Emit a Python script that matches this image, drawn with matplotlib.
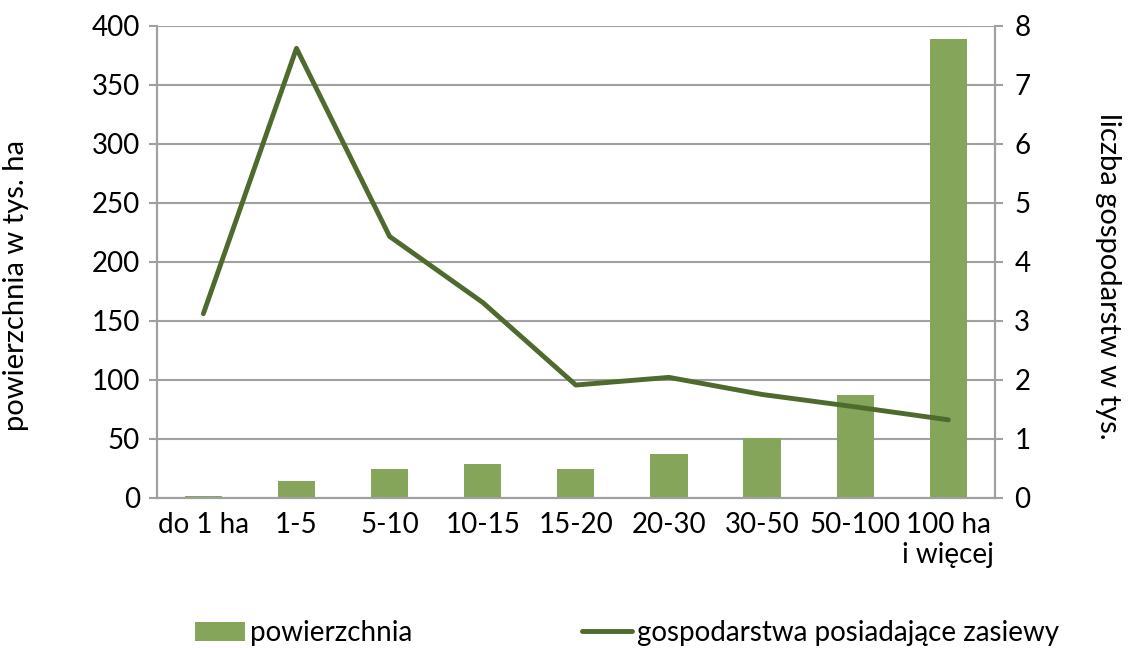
import matplotlib.pyplot as plt
import numpy as np

plt.rcParams['font.family'] = ['Lato', 'DejaVu Sans']

# dane
kategorie = ['do 1 ha', '1-5', '5-10', '10-15', '15-20', '20-30', '30-50', '50-100', '100 ha\ni więcej']
powierzchnia = [1.5, 14, 24, 28.5, 24, 37, 51, 87, 389]
gospodarstwa = [3.12, 7.62, 4.43, 3.31, 1.91, 2.04, 1.75, 1.54, 1.32]

kolor_slupki = '#84A55A'
kolor_linia = '#4F6A2D'
szary = '#A0A0A0'
fs = 20

fig = plt.figure(figsize=(11.28, 6.48), dpi=100)
ax = fig.add_axes([0.139, 0.232, 0.743, 0.728])
ax2 = ax.twinx()

x = np.arange(len(kategorie))
ax.bar(x, powierzchnia, width=0.4, color=kolor_slupki, label='powierzchnia', zorder=3)
ax2.plot(x, gospodarstwa, color=kolor_linia, linewidth=3.5, solid_capstyle='round',
         label='gospodarstwa posiadające zasiewy', zorder=4)

ax.set_xlim(-0.5, len(kategorie) - 0.5)
ax.set_ylim(0, 400)
ax2.set_ylim(0, 8)
ax.set_yticks(range(0, 401, 50))
ax2.set_yticks(range(0, 9))
ax.set_xticks(x)
ax.set_xticklabels(kategorie)

ax.yaxis.grid(True, color=szary, linewidth=1.5, zorder=0)
ax.set_axisbelow(True)
for a in (ax, ax2):
    for s in a.spines.values():
        s.set_color(szary)
        s.set_linewidth(1.5)
    a.spines['top'].set_visible(False)
ax.tick_params(axis='y', length=6, width=1.5, color=szary, labelsize=fs, pad=6)
ax2.tick_params(axis='y', length=6, width=1.5, color=szary, labelsize=fs, pad=8)
ax.tick_params(axis='x', length=0, labelsize=fs, pad=10)

ax.set_ylabel('powierzchnia w tys. ha', fontsize=fs + 1)
ax.yaxis.set_label_coords(-0.152, 0.45)
ax2.set_ylabel('liczba gospodarstw w tys.', fontsize=fs + 1, rotation=-90, va='center')
ax2.yaxis.set_label_coords(1.135, 0.47)

h1, l1 = ax.get_legend_handles_labels()
h2, l2 = ax2.get_legend_handles_labels()
fig.legend(h1 + h2, l1 + l2, loc='center', bbox_to_anchor=(0.556, 0.023), ncol=2,
           frameon=False, fontsize=fs, handlelength=1.8, handletextpad=0.18,
           columnspacing=6.1)

plt.savefig('out.png', dpi=100)
